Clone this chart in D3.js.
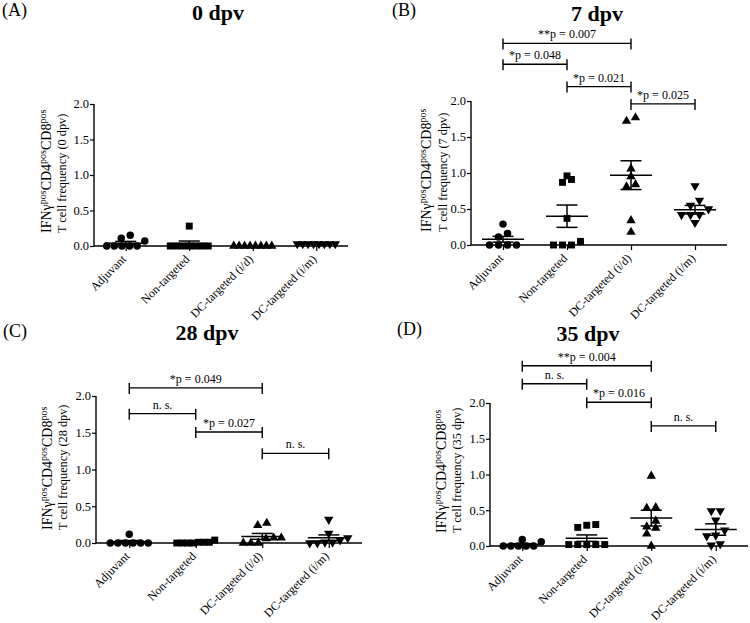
<!DOCTYPE html>
<html><head><meta charset="utf-8">
<script src="https://cdn.jsdelivr.net/npm/d3@7"></script>
<style>body{margin:0;background:#fff} svg{display:block}</style>
</head><body>
<svg id="chart" width="750" height="623"></svg>
<script>
// ---------- DATA ----------
const categories = ["Adjuvant", "Non-targeted", "DC-targeted (i/d)", "DC-targeted (i/m)"];
const yTicks = [0, 0.5, 1.0, 1.5, 2.0];
const panelLetters = ["(A)", "(B)", "(C)", "(D)"];
const panelTitles = ["0 dpv", "7 dpv", "28 dpv", "35 dpv"];

// Panel A (0 dpv)
const valuesA = [
  [0.11, 0.15, 0.07, 0, 0, 0, 0, 0],
  [0.28, 0, 0, 0, 0, 0, 0, 0],
  [0, 0, 0, 0, 0, 0, 0, 0],
  [0.03, 0.03, 0.03, 0.03, 0.03, 0.03, 0.03, 0.03]
];
const meansA = [0.04, 0.035, 0, 0.03];
const semsA = [0.025, 0.035, 0, 0.003];
const bracketsA = [];

// Panel B (7 dpv)
const valuesB = [
  [0.11, 0.29, 0.16, 0, 0, 0, 0],
  [0.96, 0.87, 0.91, 0.37, 0, 0, 0, 0.05],
  [1.72, 1.77, 1.06, 0.95, 0.81, 0.84, 0.34, 0.18],
  [0.82, 0.62, 0.55, 0.50, 0.42, 0.42, 0.42, 0.31]
];
const meansB = [0.08, 0.40, 0.97, 0.49];
const semsB = [0.04, 0.155, 0.20, 0.06];
const bracketsB = [
  [0, 2, 2.80, "**p = 0.007"],
  [0, 1, 2.51, "*p = 0.048"],
  [1, 2, 2.20, "*p = 0.021"],
  [2, 3, 1.96, "*p = 0.025"]
];

// Panel C (28 dpv)
const valuesC = [
  [0, 0, 0, 0, 0, 0, 0.12],
  [0.01, 0.01, 0, 0, 0, 0, 0.01, 0.04],
  [0.27, 0.24, 0.07, 0.07, 0.06, 0, 0, 0],
  [0.32, 0.13, 0.07, 0.04, 0.01, 0, 0.01, 0]
];
const meansC = [0.017, 0.01, 0.09, 0.07];
const semsC = [0.017, 0.005, 0.04, 0.04];
const bracketsC = [
  [0, 2, 2.11, "*p = 0.049"],
  [0, 1, 1.76, "n. s."],
  [1, 2, 1.51, "*p = 0.027"],
  [2, 3, 1.22, "n. s."]
];

// Panel D (35 dpv)
const valuesD = [
  [0.09, 0, 0, 0, 0, 0, 0.06],
  [0.29, 0.26, 0.30, 0.02, 0.02, 0.02, 0.02, 0.02],
  [0.98, 0.54, 0.53, 0.35, 0.25, 0.27, 0.17, 0.0],
  [0.49, 0.49, 0.36, 0.22, 0.15, 0.14, 0.01, 0.03]
];
const meansD = [0.02, 0.11, 0.39, 0.23];
const semsD = [0.014, 0.045, 0.11, 0.08];
const bracketsD = [
  [0, 2, 2.52, "**p = 0.004"],
  [0, 1, 2.27, "n. s."],
  [1, 2, 2.01, "*p = 0.016"],
  [2, 3, 1.68, "n. s."]
];

// ---------- LAYOUT ----------
const layout = [
  {x0: 94,  x1: 348, yTop: 104, y0: 246, titleX: 218, titleY: 20,  letterX: 2,   letterY: 16,  lab1: -43, lab2: -28},
  {x0: 471, x1: 727, yTop: 101, y0: 245, titleX: 597, titleY: 21,  letterX: 392, letterY: 16,  lab1: -40, lab2: -24},
  {x0: 96,  x1: 362, yTop: 396, y0: 543, titleX: 207, titleY: 340, letterX: 3,   letterY: 337, lab1: -44, lab2: -29},
  {x0: 490, x1: 748, yTop: 403, y0: 546, titleX: 588, titleY: 341, letterX: 397, letterY: 335, lab1: -44, lab2: -29}
];
const panelData = [
  {values: valuesA, means: meansA, sems: semsA, brackets: bracketsA},
  {values: valuesB, means: meansB, sems: semsB, brackets: bracketsB},
  {values: valuesC, means: meansC, sems: semsC, brackets: bracketsC},
  {values: valuesD, means: meansD, sems: semsD, brackets: bracketsD}
];

const FONT = "'Liberation Serif','Times New Roman',serif";
const svg = d3.select("#chart");

function addText(g, x, y, str, o = {}) {
  return g.append("text")
    .attr("transform", `translate(${x},${y}) rotate(${o.rotate || 0})`)
    .attr("font-family", FONT)
    .attr("font-size", o.size || 12)
    .attr("font-weight", o.weight || "normal")
    .attr("text-anchor", o.anchor || "start")
    .attr("dy", o.dy || 0)
    .attr("fill", "#000")
    .text(str);
}

const symbolGens = [
  d3.symbol().type(d3.symbolCircle).size(44),
  d3.symbol().type(d3.symbolSquare).size(48),
  d3.symbol().type(d3.symbolTriangle).size(38),
  d3.symbol().type(d3.symbolTriangle).size(38)
];

function arrange(vals, y, cx) {
  const pts = vals.map(v => ({v, py: y(v)})).sort((a, b) => b.py - a.py);
  const rows = [];
  let cur = null;
  pts.forEach(p => {
    if (cur && cur[0].py - p.py < 6) cur.push(p);
    else { cur = [p]; rows.push(cur); }
  });
  rows.forEach(row => {
    const n = row.length;
    const sp = n > 1 ? Math.min(9, 38 / (n - 1)) : 0;
    row.forEach((p, i) => { p.px = cx + (i - (n - 1) / 2) * sp; });
  });
  return pts;
}

layout.forEach((L, pi) => {
  const D = panelData[pi];
  const g = svg.append("g");
  const x = d3.scalePoint().domain(categories).range([L.x0, L.x1]).padding(0.5);
  const y = d3.scaleLinear().domain([0, 2]).range([L.y0, L.yTop]);

  // axes
  const yAxis = g.append("g").attr("transform", `translate(${L.x0},0)`)
    .call(d3.axisLeft(y).tickValues(yTicks).tickSize(4).tickFormat(() => ""));
  yAxis.select(".domain").attr("stroke-width", 1.4).attr("d", `M0,${L.y0}V${L.yTop}`);
  yAxis.selectAll(".tick line").attr("stroke-width", 1.2);
  yTicks.forEach(t => addText(g, L.x0 - 5, y(t), d3.format(".1f")(t), {size: 12.5, anchor: "end", dy: "0.35em"}));

  const xAxis = g.append("g").attr("transform", `translate(0,${L.y0})`)
    .call(d3.axisBottom(x).tickSize(5).tickFormat(() => ""));
  xAxis.select(".domain").attr("stroke-width", 1.4).attr("d", `M${L.x0},0H${L.x1}`);
  xAxis.selectAll(".tick line").attr("stroke-width", 1.2);
  categories.forEach(c => addText(g, x(c) + 1, L.y0 + 14, c, {size: 12, anchor: "end", rotate: -45}));

  // y label
  const yl = addText(g, L.x0 + L.lab1, L.y0 - 13, "", {size: 14, anchor: "start", rotate: -90});
  const parts = [["IFNγ", false], ["pos", true], ["CD4", false], ["pos", true], ["CD8", false], ["pos", true]];
  parts.forEach(([t, sup], i) => {
    yl.append("tspan").attr("font-size", sup ? 10 : 14).attr("dy", i === 0 ? 0 : (sup ? -5 : 5)).text(t);
  });
  addText(g, L.x0 + L.lab2, L.y0 - 13, `T cell frequency (${panelTitles[pi]})`, {size: 12.3, anchor: "start", rotate: -90});

  // titles
  addText(g, L.titleX, L.titleY, panelTitles[pi], {size: 22, weight: "bold", anchor: "middle"});
  addText(g, L.letterX, L.letterY, panelLetters[pi], {size: 18, anchor: "start"});

  // points
  categories.forEach((c, ci) => {
    const pts = arrange(D.values[ci], y, x(c));
    g.selectAll(null).data(pts).enter().append("path")
      .attr("d", symbolGens[ci])
      .attr("transform", p => `translate(${p.px},${p.py})${ci === 3 ? " rotate(180)" : ""}`)
      .attr("fill", "#000");
  });

  // mean + SEM
  categories.forEach((c, ci) => {
    const cx = x(c), m = D.means[ci], s = D.sems[ci];
    const gl = g.append("g").attr("stroke", "#000").attr("stroke-width", 1.5);
    gl.append("line").attr("x1", cx - 21).attr("x2", cx + 21).attr("y1", y(m)).attr("y2", y(m));
    gl.append("line").attr("x1", cx).attr("x2", cx).attr("y1", y(m - s)).attr("y2", y(m + s));
    [m - s, m + s].forEach(v => gl.append("line").attr("x1", cx - 10.5).attr("x2", cx + 10.5).attr("y1", y(v)).attr("y2", y(v)));
  });

  // significance brackets
  D.brackets.forEach(([a, b, v, label]) => {
    const xa = x(categories[a]), xb = x(categories[b]), yy = y(v);
    g.append("path").attr("d", `M${xa},${yy - 5}V${yy + 6}M${xa},${yy}H${xb}M${xb},${yy - 5}V${yy + 6}`)
      .attr("stroke", "#000").attr("stroke-width", 1.4).attr("fill", "none");
    addText(g, (xa + xb) / 2, yy - 5, label, {size: 12, anchor: "middle"});
  });
});
</script>
</body></html>
